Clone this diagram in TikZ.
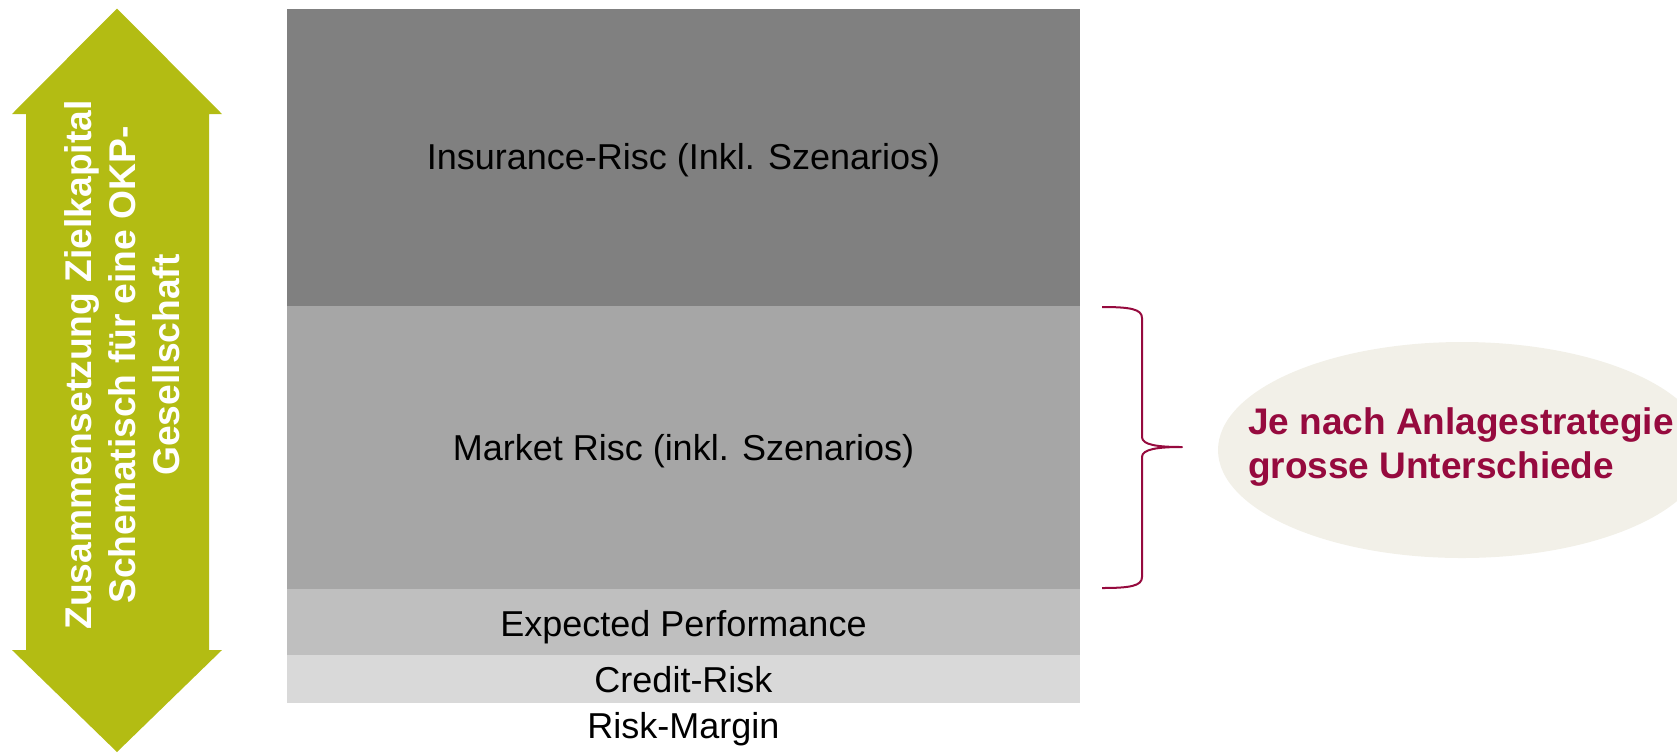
\documentclass[tikz,border=0pt]{standalone}
\usepackage{fontspec}
\setmainfont{Liberation Sans}
\definecolor{okpgreen}{RGB}{179,188,19}
\definecolor{wine}{RGB}{150,10,62}
\definecolor{cream}{RGB}{242,240,232}
\definecolor{band1}{RGB}{128,128,128}
\definecolor{band2}{RGB}{166,166,166}
\definecolor{band3}{RGB}{191,191,191}
\definecolor{band4}{RGB}{217,217,217}

\begin{document}
\begin{tikzpicture}[x=0.5pt, y=-0.5pt, line join=round,
    bandtext/.style={anchor=base, font=\fontsize{18}{22}\selectfont},
    notetext/.style={anchor=base west, align=left, text=wine,
      font=\fontsize{18.5}{22}\selectfont\bfseries},
    sidetext/.style={rotate=90, align=center, text=white,
      font=\fontsize{18.6}{22}\selectfont\bfseries},
    bracket/.style={draw=wine, line width=1pt}]
  \useasboundingbox (0,0) rectangle (1677,752);
  % double arrow on the left
  \fill[okpgreen] (117,8.5) -- (222,114) -- (209,114) -- (209,650) -- (222,650)
    -- (117,752) -- (12,650) -- (26,650) -- (26,114) -- (12,114) -- cycle;
  \node[sidetext] (side) at (122,365)
    {Zusammensetzung Zielkapital\\Schematisch für eine OKP-\\Gesellschaft};
  % stacked bands
  \fill[band1] (287,8.5) rectangle (1080,306);
  \fill[band2] (287,306) rectangle (1080,589);
  \fill[band3] (287,589) rectangle (1080,655);
  \fill[band4] (287,655) rectangle (1080,703);
  \node[bandtext] (insurance) at (683.5,169) {Insurance-Risc (Inkl. Szenarios)};
  \node[bandtext] (market) at (683.5,460) {Market Risc (inkl. Szenarios)};
  \node[bandtext] (expected) at (683.5,636) {Expected Performance};
  \node[bandtext] (credit) at (683.5,692) {Credit-Risk};
  \node[bandtext] (margin) at (683.5,738) {Risk-Margin};
  % ellipse with remark
  \begin{scope}
    \clip (0,0) rectangle (1677,752);
    \fill[cream] (1462,450) ellipse [x radius=244, y radius=108];
  \end{scope}
  \node[notetext] (note) at (1241,478)
    {Je nach Anlagestrategie\\grosse Unterschiede};
  % brace
  \coordinate (bracetop) at (1102,307);
  \coordinate (bracetip) at (1182,447);
  \coordinate (bracebot) at (1102,588);
  \draw[bracket] (bracetop) .. controls (1130,307) and (1142,309) .. (1142,318)
    -- (1142,437) .. controls (1142,445) and (1158,447) .. (bracetip)
    .. controls (1158,447) and (1142,449) .. (1142,457)
    -- (1142,577) .. controls (1142,586) and (1130,588) .. (bracebot);
\end{tikzpicture}
\end{document}
